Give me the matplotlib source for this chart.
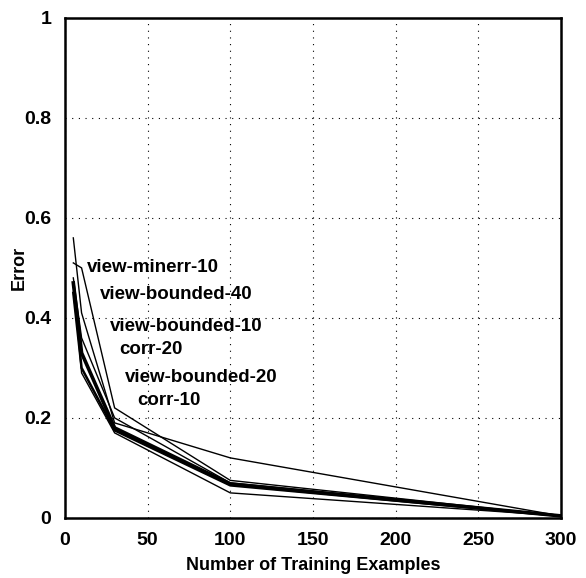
import matplotlib
matplotlib.use("Agg")
import matplotlib.pyplot as plt

plt.rcParams['font.family'] = ['Liberation Sans', 'DejaVu Sans']

x_long = [5, 10, 30, 100, 300]
view_minerr_10 = [0.56, 0.41, 0.19, 0.12, 0.004]
view_bounded_40 = [0.51, 0.50, 0.22, 0.075, 0.004]
view_bounded_10 = [0.48, 0.36, 0.20, 0.07, 0.004]
corr_20 = [0.47, 0.33, 0.18, 0.068, 0.004]
view_bounded_20 = [0.45, 0.30, 0.175, 0.065, 0.004]
corr_10 = [0.47, 0.29, 0.17, 0.05, 0.004]

labels = ["view-minerr-10", "view-bounded-40", "view-bounded-10",
          "corr-20", "view-bounded-20", "corr-10"]
label_x = [13, 21, 27, 33, 36, 43.5]
label_y = [0.50, 0.446, 0.382, 0.336, 0.28, 0.234]

series = [view_minerr_10, view_bounded_40, view_bounded_10, corr_20, view_bounded_20, corr_10]
widths = [1.0, 1.0, 1.0, 2.6, 1.8, 1.0]

xticks = [0, 50, 100, 150, 200, 250, 300]
yticks = [0, 0.2, 0.4, 0.6, 0.8, 1]
ytick_labels = ["0", "0.2", "0.4", "0.6", "0.8", "1"]

fig = plt.figure(figsize=(5.86, 5.78), dpi=100)
ax = fig.add_axes([0.111, 0.104, 0.846, 0.865])

for ys, lw in zip(series, widths):
    ax.plot(x_long, ys, color='black', lw=lw, solid_joinstyle='miter')

for t, lx, ly in zip(labels, label_x, label_y):
    ax.text(lx, ly, t, fontsize=13.5, fontweight='bold', ha='left', va='center')

ax.set_xlim(0, 300)
ax.set_ylim(0, 1)
ax.set_xticks(xticks)
ax.set_yticks(yticks)
ax.set_yticklabels(ytick_labels)
ax.tick_params(axis='both', length=0, labelsize=14, pad=10)
for lab in ax.get_xticklabels() + ax.get_yticklabels():
    lab.set_fontweight('bold')
ax.grid(True, color='black', linestyle=(0, (1, 5)), lw=0.8)
for s in ax.spines.values():
    s.set_linewidth(1.8)

ax.set_xlabel("Number of Training Examples", fontsize=13, fontweight='bold', labelpad=6)
ax.set_ylabel("Error", fontsize=13, fontweight='bold', labelpad=-3)

fig.savefig("out.png", dpi=100)
